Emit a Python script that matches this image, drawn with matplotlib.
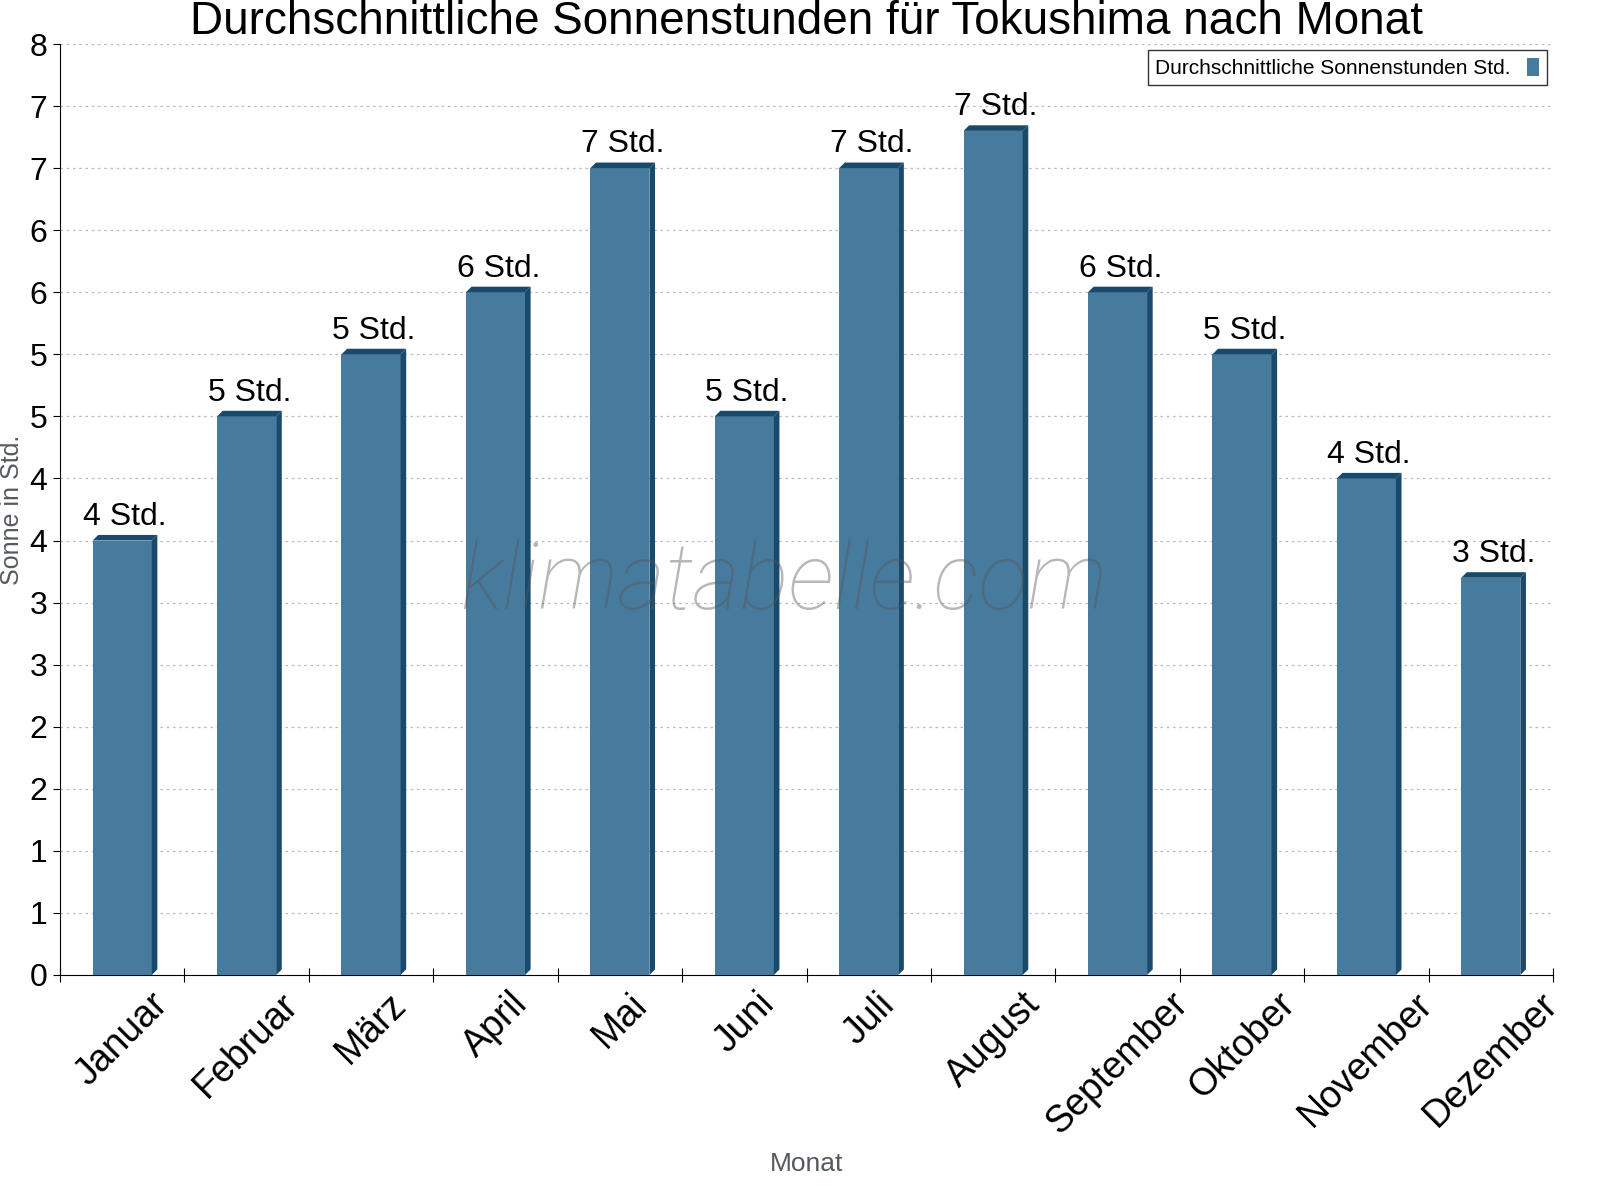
import matplotlib
matplotlib.use("Agg")
import matplotlib.pyplot as plt
from matplotlib.patches import Polygon
import numpy as np

plt.rcParams["font.family"] = ["Liberation Sans", "DejaVu Sans"]

MONTHS = ["Januar", "Februar", "März", "April", "Mai", "Juni", "Juli",
          "August", "September", "Oktober", "November", "Dezember"]
SUN_HOURS = [3.5, 4.5, 5.0, 5.5, 6.5, 4.5, 6.5, 6.8, 5.5, 5.0, 4.0, 3.2]
BAR_LABELS = ["4 Std.", "5 Std.", "5 Std.", "6 Std.", "7 Std.", "5 Std.", "7 Std.",
              "7 Std.", "6 Std.", "5 Std.", "4 Std.", "3 Std."]
Y_TICKS = [0, 0.5, 1, 1.5, 2, 2.5, 3, 3.5, 4, 4.5, 5, 5.5, 6, 6.5, 7, 7.5]
Y_TICK_LABELS = ["0", "1", "1", "2", "2", "3", "3", "4", "4", "5", "5", "6", "6", "7", "7", "8"]

FRONT = "#467b9e"
SIDE = "#1a4a6b"

fig = plt.figure(figsize=(16, 12), dpi=100)
ax = fig.add_axes([60 / 1600, 1 - 975 / 1200, 1493 / 1600, 931 / 1200])

x = np.arange(len(MONTHS)) + 0.5
w = 0.475
dx, dy = 0.045, 0.045

ax.bar(x, SUN_HOURS, w, color=FRONT, zorder=3,
       label="Durchschnittliche Sonnenstunden Std.")
for xi, v in zip(x, SUN_HOURS):
    l, r = xi - w / 2, xi + w / 2
    # side face
    ax.add_patch(Polygon([(r, 0), (r + dx, dy), (r + dx, v + dy), (r, v)],
                         closed=True, color=SIDE, zorder=3, lw=0))
    # top face
    ax.add_patch(Polygon([(l, v), (l + dx, v + dy), (r + dx, v + dy), (r, v)],
                         closed=True, color=SIDE, zorder=3, lw=0))

for xi, v, t in zip(x, SUN_HOURS, BAR_LABELS):
    ax.text(xi + dx / 2, v + 0.07, t, ha="center", va="bottom", fontsize=23, zorder=4)

ax.set_xlim(0, 12)
ax.set_ylim(0, 7.5)
ax.set_yticks(Y_TICKS)
ax.set_yticklabels(Y_TICK_LABELS, fontsize=23)
ax.set_xticks(np.arange(13))
ax.set_xticklabels([])
ax.set_xticks(x, minor=True)
ax.set_xticklabels(MONTHS, minor=True, rotation=45, ha="center", va="top",
                   fontsize=27)
ax.tick_params(axis="x", which="minor", length=0, pad=8)
ax.tick_params(axis="x", which="major", direction="inout", length=10)
ax.tick_params(axis="y", direction="out", length=5, pad=4)
ax.grid(axis="y", ls=(0, (2, 3)), color="#bbbbbb", lw=0.9, zorder=0)
for s in ["top", "right"]:
    ax.spines[s].set_visible(False)

ax.set_title("Durchschnittliche Sonnenstunden für Tokushima nach Monat",
             fontsize=33, pad=0)
ax.set_ylabel("Sonne in Std.", fontsize=18, color="#555a60", labelpad=4)
ax.set_xlabel("Monat", fontsize=19, color="#555a60")
ax.xaxis.set_label_coords(0.5, -0.19)

ax.text(0.485, 0.42, "klimatabelle.com", transform=ax.transAxes, fontsize=66,
        family="Roboto", weight="light", style="italic", color="#555555",
        alpha=0.42, ha="center", va="center", zorder=5)

leg = ax.legend(loc="upper right", fontsize=15, markerfirst=False, frameon=True,
                fancybox=False, edgecolor="black", handlelength=0.6,
                handleheight=1.0, borderaxespad=0.3, borderpad=0.35)
leg.get_frame().set_linewidth(1.0)

fig.savefig("out.png", dpi=100)
